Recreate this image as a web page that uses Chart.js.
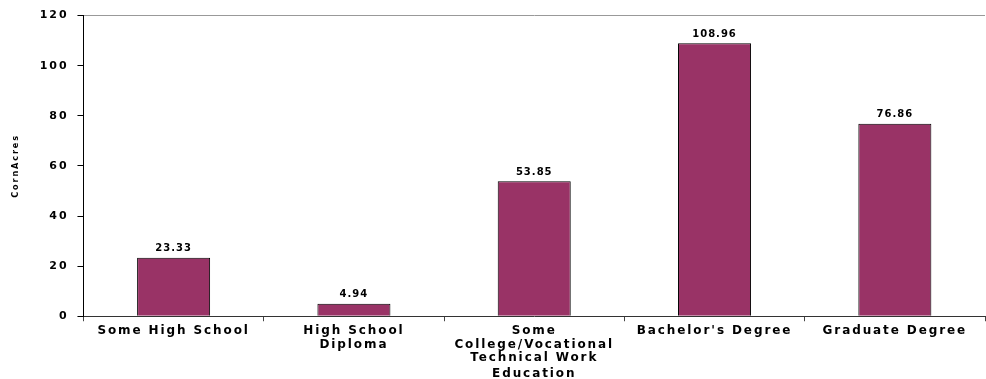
<!DOCTYPE html>
<html>
<head>
<meta charset="utf-8">
<script src="https://cdn.jsdelivr.net/npm/chart.js@4.4.0/dist/chart.umd.min.js"></script>
<style>
  html, body { margin: 0; padding: 0; background: #fff; }
</style>
</head>
<body>
<canvas id="chart" width="986" height="379"></canvas>
<script>
// data
const categories = [
    'Some High School',
    ['High School', 'Diploma'],
    ['Some', 'College/Vocational', 'Technical Work'],
    "Bachelor's Degree",
    'Graduate Degree'
];
const cornAcres = [23.33, 4.94, 53.85, 108.96, 76.86];
const yTicks = [0, 20, 40, 60, 80, 100, 120];

const family = 'DejaVu Sans, Verdana, sans-serif';
const tickFont = { family: family, size: 12, weight: 'bold', lineHeight: 1.12 };
const yTickFont = { family: family, size: 11, weight: 'bold' };

// the reference text is wide, so space the letters out a bit
const wideText = {
    id: 'wideText',
    beforeUpdate(chart) { chart.ctx.letterSpacing = '1.9px'; },
    beforeDraw(chart) { chart.ctx.letterSpacing = '1.9px'; }
};

// values above the bars
const valueLabels = {
    id: 'valueLabels',
    afterDatasetsDraw(chart) {
        const ctx = chart.ctx;
        ctx.save();
        ctx.letterSpacing = '1px';
        ctx.font = 'bold 10px ' + family;
        ctx.fillStyle = '#000';
        ctx.textAlign = 'center';
        ctx.textBaseline = 'bottom';
        chart.getDatasetMeta(0).data.forEach((bar, i) => {
            ctx.fillText(cornAcres[i].toFixed(2), bar.x, bar.y - 4);
        });
        ctx.restore();
    }
};

const ctx = document.getElementById('chart').getContext('2d');
new Chart(ctx, {
    type: 'bar',
    data: {
        labels: categories,
        datasets: [{
            label: 'CornAcres',
            data: cornAcres,
            backgroundColor: '#993366',
            borderColor: '#000',
            borderWidth: 1,
            barPercentage: 0.405,
            categoryPercentage: 1
        }]
    },
    options: {
        responsive: false,
        animation: false,
        layout: { padding: { top: 12, right: 1, left: 6, bottom: -2 } },
        plugins: {
            legend: { display: false },
            tooltip: { enabled: false }
        },
        scales: {
            x: {
                grid: {
                    offset: true,
                    drawOnChartArea: false,
                    tickLength: 5,
                    color: '#444'
                },
                border: { color: '#333', width: 1 },
                ticks: {
                    color: '#000',
                    font: tickFont,
                    maxRotation: 0,
                    autoSkip: false,
                    padding: 3
                },
                title: {
                    display: true,
                    text: 'Education',
                    color: '#000',
                    font: tickFont,
                    padding: { top: 0, bottom: 0 }
                }
            },
            y: {
                min: 0,
                max: 120,
                afterBuildTicks: axis => { axis.ticks = yTicks.map(v => ({ value: v })); },
                grid: {
                    color: c => (c.tick && c.tick.value === 120) ? '#999' : 'rgba(0,0,0,0)',
                    tickColor: '#000',
                    tickLength: 6
                },
                border: { color: '#000', width: 1 },
                ticks: {
                    color: '#000',
                    font: yTickFont,
                    padding: 9
                },
                title: {
                    display: true,
                    text: 'CornAcres',
                    color: '#000',
                    font: { family: 'DejaVu Sans Condensed, DejaVu Sans, sans-serif', size: 9, weight: 'bold' },
                    padding: { top: 4, bottom: 10 }
                }
            }
        }
    },
    plugins: [wideText, valueLabels]
});
</script>
</body>
</html>
